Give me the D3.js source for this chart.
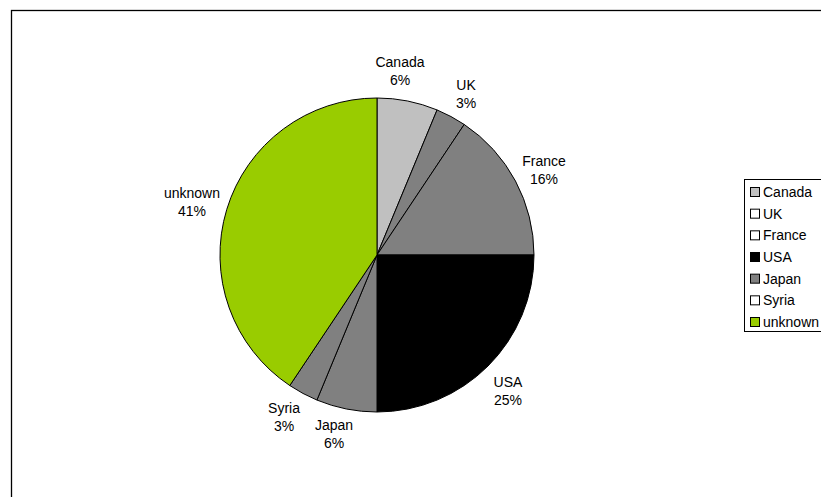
<!DOCTYPE html>
<html>
<head>
<meta charset="utf-8">
<script src="https://cdn.jsdelivr.net/npm/d3@7/dist/d3.min.js"></script>
<style>
  html, body { margin: 0; padding: 0; background: #fff; }
  svg { display: block; }
  text { font-family: "Liberation Sans", Arial, sans-serif; font-size: 14px; fill: #000; }
</style>
</head>
<body>
<svg id="chart" width="821" height="497"></svg>
<script>
// Countries and how many entries fall under each
const categories = ["Canada", "UK", "France", "USA", "Japan", "Syria", "unknown"];
const counts = [2, 1, 5, 8, 2, 1, 13];
const sliceColors = ["#c0c0c0", "#808080", "#808080", "#000000", "#808080", "#808080", "#99cc00"];
const legendColors = ["#c0c0c0", "#ffffff", "#ffffff", "#000000", "#808080", "#ffffff", "#99cc00"];
// Label anchor positions (centre x, first-line baseline), in pixels
const labelPos = [[400, 67], [466, 90], [544, 166], [508, 387], [334, 430], [284, 413], [192, 198]];

const svg = d3.select("#chart");
const W = 821, H = 497;

// Outer chart frame (runs off the right and bottom edges)
svg.append("rect")
  .attr("x", 11.5).attr("y", 10.5)
  .attr("width", W + 20).attr("height", H + 20)
  .attr("fill", "#fff").attr("stroke", "#000").attr("stroke-width", 1.3);

const cx = 377, cy = 255, r = 157;
const total = d3.sum(counts);
const data = categories.map((c, i) => ({ name: c, value: counts[i], i }));

const pie = d3.pie().value(d => d.value).sort(null);
const arc = d3.arc().innerRadius(0).outerRadius(r);

const g = svg.append("g").attr("transform", `translate(${cx},${cy})`);
g.selectAll("path")
  .data(pie(data))
  .join("path")
  .attr("d", arc)
  .attr("fill", d => sliceColors[d.data.i])
  .attr("stroke", "#000")
  .attr("stroke-width", 1);

// Category and percentage labels
const fmt = v => Math.round(v / total * 100) + "%";
const labels = svg.append("g");
data.forEach((d, i) => {
  const [x, y] = labelPos[i];
  const t = labels.append("text").attr("text-anchor", "middle");
  t.append("tspan").attr("x", x).attr("y", y).text(d.name);
  t.append("tspan").attr("x", x).attr("y", y + 18).text(fmt(d.value));
});

// Legend
const lg = svg.append("g");
lg.append("rect")
  .attr("x", 744.5).attr("y", 179.5)
  .attr("width", 100).attr("height", 152)
  .attr("fill", "#fff").attr("stroke", "#000").attr("stroke-width", 1);

const ly = d3.scalePoint().domain(categories).range([192, 322]);
const item = lg.selectAll("g.item")
  .data(data)
  .join("g")
  .attr("class", "item")
  .attr("transform", d => `translate(0,${ly(d.name)})`);
item.append("rect")
  .attr("x", 750.5).attr("y", -4.5)
  .attr("width", 9).attr("height", 9)
  .attr("fill", d => legendColors[d.i])
  .attr("stroke", "#000").attr("stroke-width", 1);
item.append("text")
  .attr("x", 763).attr("y", 5)
  .text(d => d.name);
</script>
</body>
</html>
